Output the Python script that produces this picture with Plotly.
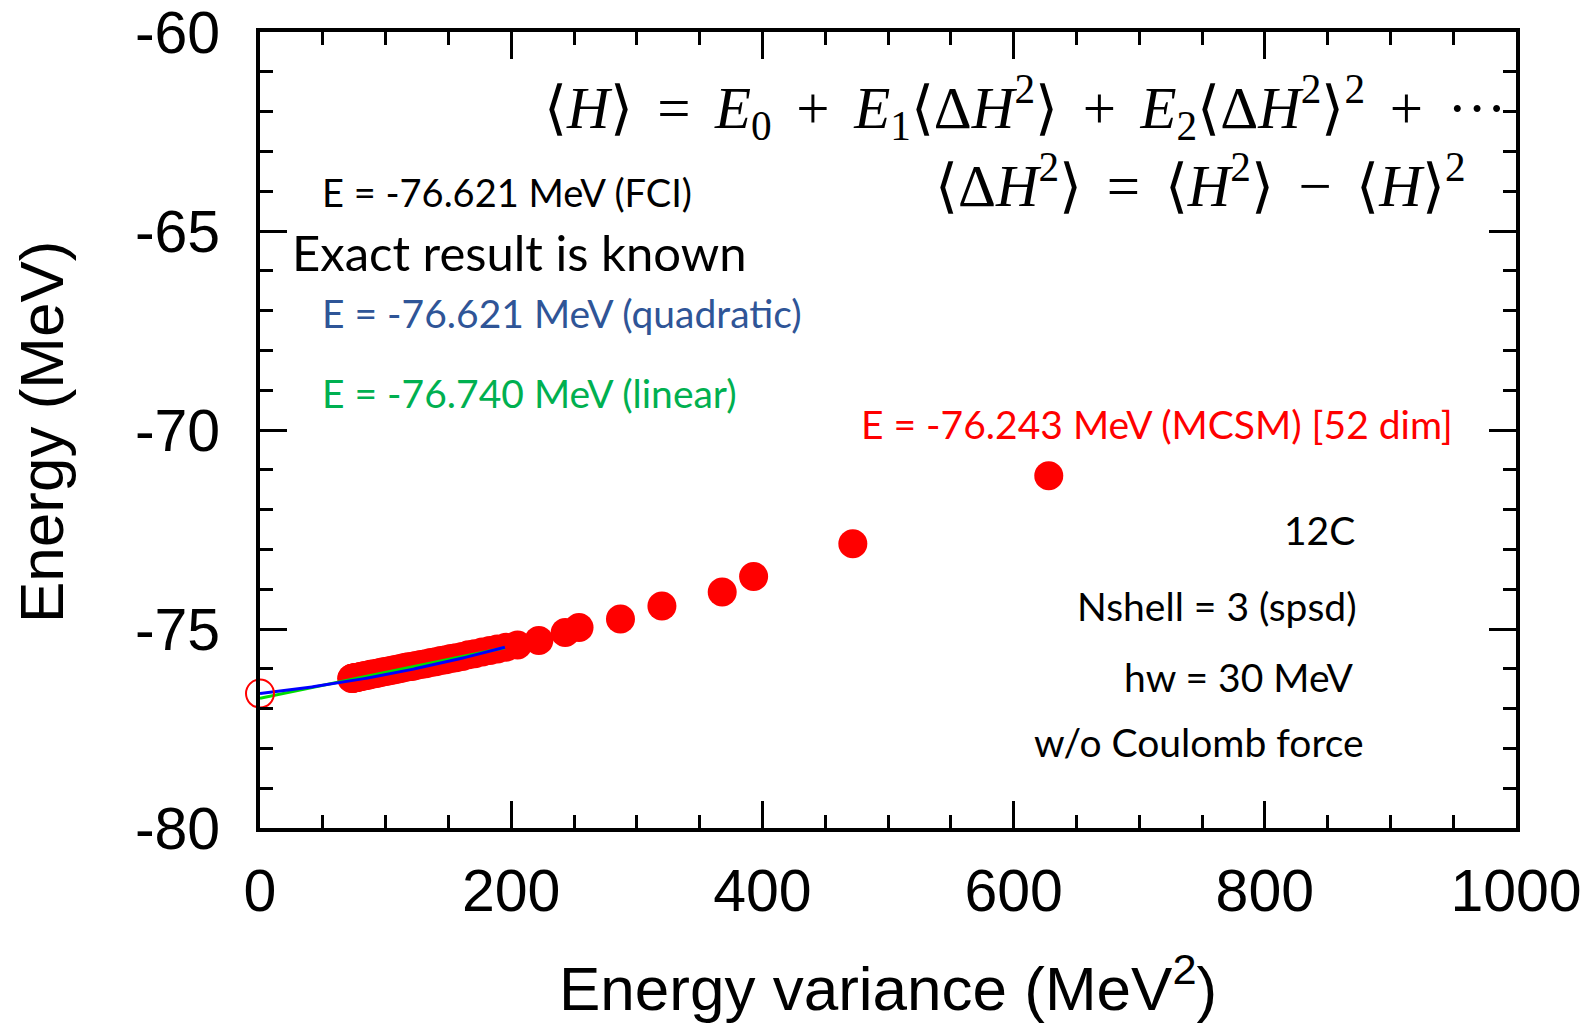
import numpy as np
import plotly.graph_objects as go

# ---- data ----
variance = [628, 472, 393, 368, 320, 287, 254, 243, 222, 205, 196, 189, 183, 177,
            171, 166, 161, 156, 152, 148, 144, 140, 136, 132, 128, 124, 121, 118,
            115, 112, 109, 106, 103, 100, 97.5, 95, 92.5, 90, 88, 86, 84, 82.5,
            81, 79.5, 78, 77, 76, 75, 74.5, 74, 73.5, 73]
energy = [-71.15, -72.86, -73.68, -74.07, -74.42, -74.75, -74.96, -75.09, -75.29,
          -75.40, -75.46, -75.50, -75.54, -75.58, -75.62, -75.65, -75.69, -75.72,
          -75.74, -75.77, -75.79, -75.82, -75.84, -75.87, -75.89, -75.92, -75.94,
          -75.95, -75.97, -75.99, -76.01, -76.03, -76.05, -76.07, -76.08, -76.10,
          -76.12, -76.13, -76.14, -76.16, -76.17, -76.18, -76.19, -76.20, -76.21,
          -76.22, -76.22, -76.23, -76.234, -76.237, -76.24, -76.243]

fci_energy = -76.621
quad_coef = [-76.621, 0.003466, 1.276e-5]   # E0, E1, E2
lin_coef = [-76.740, 0.00651]              # E0, E1
fit_range = [0, 195]

x_ticks = [0, 200, 400, 600, 800, 1000]
y_ticks = [-80, -75, -70, -65, -60]

# ---- geometry (page body has an 8px margin) ----
OFF = 8
W, H = 1596 - OFF, 1025 - OFF
L, R, T, B = 260 - OFF, 80, 32 - OFF, 197
PW, PH = W - L - R, H - T - B


def px(x):
    return (x - OFF - L) / PW


def py(y):
    return (H - B - (y - OFF)) / PH


fx = np.linspace(fit_range[0], fit_range[1], 100)
quad_y = quad_coef[0] + quad_coef[1] * fx + quad_coef[2] * fx ** 2
lin_y = lin_coef[0] + lin_coef[1] * fx

fig = go.Figure()
fig.add_trace(go.Scatter(x=variance, y=energy, mode="markers",
                         marker=dict(size=29, color="#ff0000", line=dict(width=0)),
                         showlegend=False))
fig.add_trace(go.Scatter(x=fx, y=lin_y, mode="lines",
                         line=dict(color="#00dd00", width=3), showlegend=False))
fig.add_trace(go.Scatter(x=fx, y=quad_y, mode="lines",
                         line=dict(color="#0000ff", width=3), showlegend=False))
fig.add_trace(go.Scatter(x=[0], y=[fci_energy], mode="markers",
                         marker=dict(size=28, symbol="circle-open", color="#ff0000",
                                     line=dict(width=2, color="#ff0000")),
                         cliponaxis=False, showlegend=False))

axis_common = dict(showline=True, linewidth=4, linecolor="black", mirror="ticks",
                   ticks="inside", tickwidth=3, ticklen=27, tickcolor="black",
                   showgrid=False, zeroline=False, automargin=False,
                   ticklabeloverflow="allow",
                   tickfont=dict(family="Liberation Sans", size=59, color="black"))

fig.update_xaxes(range=[0, 1000], tickvals=x_ticks, ticktext=[str(v) for v in x_ticks],
                 minor=dict(ticks="inside", ticklen=13, tickwidth=3, dtick=50,
                            tickcolor="black", showgrid=False),
                 ticklabelstandoff=8, **axis_common)
fig.update_yaxes(range=[-80, -60], tickvals=y_ticks, ticktext=[str(v) for v in y_ticks],
                 minor=dict(ticks="inside", ticklen=13, tickwidth=3, dtick=1,
                            tickcolor="black", showgrid=False),
                 ticklabelstandoff=24, **axis_common)

ann = []
title_font = dict(family="Liberation Sans", size=62, color="black")
ann.append(dict(text="Energy variance (MeV<sup>2</sup>)", x=px(888), y=py(984),
                xref="paper", yref="paper", showarrow=False, font=title_font,
                xanchor="center", yanchor="middle"))
ann.append(dict(text="Energy (MeV)", x=px(42), y=py(432), xref="paper", yref="paper",
                showarrow=False, font=title_font, textangle=-90,
                xanchor="center", yanchor="middle"))

txt = "Lato"
left_items = [
    ("E = -76.621 MeV (FCI)", 320, 192, 38, "black"),
    ("Exact result is known", 290, 252, 49, "black"),
    ("E = -76.621 MeV (quadratic)", 320, 313, 39, "#2f5597"),
    ("E = -76.740 MeV (linear)", 320, 393, 39, "#00b050"),
]
for t, x, y, s, c in left_items:
    ann.append(dict(text=t, x=px(x), y=py(y), xref="paper", yref="paper",
                    showarrow=False, xanchor="left", yanchor="middle",
                    font=dict(family=txt, size=s, color=c)))

right_items = [
    ("E = -76.243 MeV (MCSM) [52 dim]", 1455, 424, "#ff0000"),
    ("12C", 1357, 530, "black"),
    ("Nshell = 3 (spsd)", 1359, 606, "black"),
    ("hw = 30 MeV", 1356, 677, "black"),
    ("w/o Coulomb force", 1366, 742, "black"),
]
for t, x, y, c in right_items:
    ann.append(dict(text=t, x=px(x), y=py(y), xref="paper", yref="paper",
                    showarrow=False, xanchor="right", yanchor="middle",
                    font=dict(family=txt, size=39, color=c)))

eq_font = dict(family="Liberation Serif", size=59, color="black")
sp = " &#8198;"
eq1 = ("⟨<i>H</i>⟩" + sp + "=" + sp + "<i>E</i><sub>0</sub>" + sp + "+" + sp +
       "<i>E</i><sub>1</sub>⟨Δ<i>H</i><sup>2</sup>⟩" + sp + "+" + sp +
       "<i>E</i><sub>2</sub>⟨Δ<i>H</i><sup>2</sup>⟩<sup>2</sup>" + sp + "+" + sp + "···")
eq2 = ("⟨Δ<i>H</i><sup>2</sup>⟩" + sp + "=" + sp + "⟨<i>H</i><sup>2</sup>⟩" + sp +
       "−" + sp + "⟨<i>H</i>⟩<sup>2</sup>")
ann.append(dict(text=eq1, x=px(1508), y=py(108), xref="paper", yref="paper",
                showarrow=False, xanchor="right", yanchor="middle", font=eq_font))
ann.append(dict(text=eq2, x=px(1468), y=py(181), xref="paper", yref="paper",
                showarrow=False, xanchor="right", yanchor="middle", font=eq_font))

fig.update_layout(width=W, height=H, margin=dict(l=L, r=R, t=T, b=B, autoexpand=False),
                  paper_bgcolor="white", plot_bgcolor="white",
                  annotations=ann, showlegend=False)

fig.write_html("out.html")
